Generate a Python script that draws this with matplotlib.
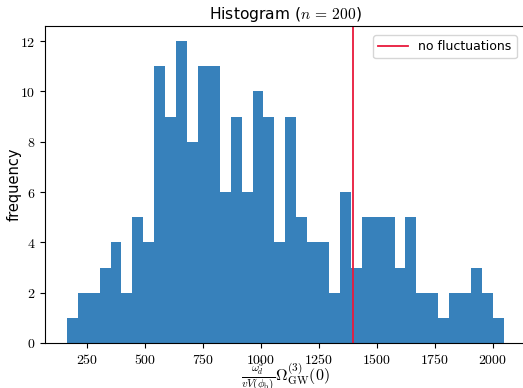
import numpy as np
import matplotlib
matplotlib.use("Agg")
from matplotlib import pyplot as plt
from matplotlib.ticker import FuncFormatter

plt.rcParams['mathtext.fontset'] = 'cm'
plt.rcParams['font.family'] = ['DejaVu Sans']

# histogram: 40 bins from ~164 to ~2047
bin_lo = 164
bin_hi = 2047
counts = [1, 2, 2, 3, 4, 2, 5, 4, 11, 9,
          12, 8, 11, 11, 6, 9, 6, 10, 9, 4,
          9, 5, 4, 4, 2, 6, 3, 5, 5, 5,
          3, 5, 2, 2, 1, 2, 2, 3, 2, 1]
no_fluct = 1398
xticks = [250, 500, 750, 1000, 1250, 1500, 1750, 2000]
yticks = [0, 2, 4, 6, 8, 10, 12]

edges = np.linspace(bin_lo, bin_hi, len(counts) + 1)

fig = plt.figure(figsize=(5.23, 3.88), dpi=100)
ax = fig.add_axes([0.086, 0.116, 0.919, 0.817])

ax.hist(edges[:-1], bins=edges, weights=counts, color='#3781bb')
ax.axvline(no_fluct, color='#e8193c', lw=1.3, label='no fluctuations')

ax.set_xticks(xticks)
ax.set_yticks(yticks)
fmt = FuncFormatter(lambda v, p: r'$%d$' % v)
ax.xaxis.set_major_formatter(fmt)
ax.yaxis.set_major_formatter(fmt)
ax.tick_params(labelsize=10)

ax.set_title(r'Histogram ($n\, =\, 200$)', fontsize=11.2, pad=5)
ax.set_ylabel('frequency', fontsize=10.5, labelpad=-1)
ax.set_xlabel(r'$\frac{\omega_{d}^3}{v V(\phi_{\rm b})}\Omega_{\rm GW}^{(3)}(0)$',
              fontsize=11.5, labelpad=-5)

ax.legend(loc='upper right', bbox_to_anchor=(0.9945, 0.99), fontsize=9,
          handlelength=2.4)

fig.savefig('out.png', dpi=100)
